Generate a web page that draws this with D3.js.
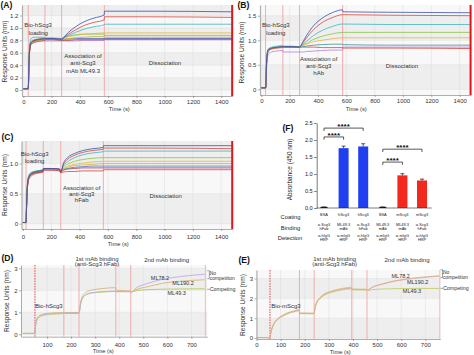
<!DOCTYPE html>
<html>
<head>
<meta charset="utf-8">
<script src="https://cdn.jsdelivr.net/npm/d3@7/dist/d3.min.js"></script>
<style>
html,body{margin:0;padding:0;background:#fff;}
svg{display:block;}
</style>
</head>
<body>
<svg id="chart" width="474" height="355"></svg>
<script>
// ================= DATA =================
// Panel A (anti-Scg3 mAb ML49.3)
const timeA = [0,34,36,39,43,48,56,75,110,152,154,210,270,290,320,370,430,500,572,574,900,1477];
const aBlue   = [0.02,0.02,0.06,0.36,0.60,0.72,0.77,0.80,0.82,0.83,0.83,0.83,0.82, 0.86,0.93,1.02,1.10,1.16,1.21, 1.27,1.27,1.26];
const aRed    = [0.02,0.02,0.05,0.34,0.58,0.71,0.76,0.79,0.81,0.82,0.82,0.82,0.81, 0.85,0.90,0.97,1.04,1.09,1.13, 1.18,1.18,1.17];
const aTeal   = [0.02,0.02,0.07,0.42,0.66,0.78,0.83,0.85,0.85,0.85,0.84,0.84,0.83, 0.85,0.88,0.93,0.98,1.02,1.05, 1.06,1.06,1.06];
const aYellow = [0.02,0.02,0.05,0.35,0.60,0.72,0.77,0.80,0.82,0.83,0.83,0.83,0.82, 0.84,0.86,0.88,0.90,0.91,0.92, 0.92,0.92,0.92];
const aGreen  = [0.02,0.02,0.06,0.38,0.62,0.74,0.79,0.81,0.82,0.83,0.83,0.83,0.82, 0.85,0.87,0.89,0.90,0.90,0.90, 0.88,0.88,0.88];
const aOlive  = [0.02,0.02,0.05,0.33,0.58,0.70,0.75,0.78,0.80,0.81,0.82,0.82,0.81, 0.82,0.83,0.84,0.85,0.86,0.86, 0.85,0.85,0.85];
const aIndigo = [0.02,0.02,0.05,0.34,0.59,0.71,0.76,0.79,0.81,0.82,0.82,0.82,0.81, 0.82,0.82,0.83,0.83,0.83,0.83, 0.83,0.83,0.83];
const aDarkRed= [0.02,0.02,0.05,0.32,0.56,0.69,0.74,0.77,0.79,0.80,0.81,0.81,0.80, 0.80,0.80,0.81,0.81,0.81,0.81, 0.82,0.82,0.82];
const aPurple = [0.02,0.02,0.05,0.30,0.55,0.68,0.73,0.76,0.78,0.79,0.79,0.79,0.79, 0.79,0.79,0.79,0.80,0.80,0.80, 0.81,0.81,0.81];

// Panel B (anti-Scg3 hAb)
const timeB = [0,30,32,35,39,44,52,72,110,151,153,210,269,290,320,370,430,500,573,575,900,1477];
const bBlue   = [0.03,0.03,0.07,0.40,0.65,0.77,0.82,0.84,0.86,0.87,0.87,0.87,0.86, 0.95,1.10,1.30,1.45,1.56,1.62, 1.58,1.57,1.56];
const bRed    = [0.03,0.03,0.06,0.38,0.62,0.75,0.80,0.83,0.85,0.86,0.86,0.86,0.86, 0.93,1.05,1.22,1.36,1.46,1.52, 1.52,1.51,1.50];
const bTeal   = [0.03,0.03,0.07,0.42,0.66,0.78,0.83,0.86,0.88,0.89,0.88,0.88,0.87, 0.91,0.98,1.10,1.20,1.28,1.33, 1.33,1.32,1.32];
const bGreen  = [0.03,0.03,0.06,0.39,0.63,0.76,0.81,0.84,0.86,0.87,0.87,0.87,0.86, 0.90,0.94,1.02,1.08,1.13,1.16, 1.16,1.16,1.16];
const bYellow = [0.03,0.03,0.06,0.37,0.61,0.74,0.79,0.83,0.85,0.86,0.86,0.86,0.86, 0.89,0.92,0.97,1.00,1.03,1.05, 1.05,1.05,1.05];
const bIndigo = [0.03,0.03,0.06,0.37,0.61,0.74,0.79,0.83,0.85,0.86,0.86,0.86,0.86, 0.87,0.88,0.90,0.91,0.92,0.92, 0.91,0.90,0.90];
const bDarkRed= [0.03,0.03,0.06,0.36,0.60,0.73,0.78,0.82,0.84,0.85,0.86,0.86,0.86, 0.86,0.86,0.86,0.85,0.85,0.85, 0.84,0.84,0.83];
const bPurple = [0.03,0.03,0.05,0.30,0.52,0.66,0.72,0.76,0.78,0.79,0.76,0.76,0.76, 0.76,0.77,0.78,0.79,0.80,0.80, 0.86,0.86,0.86];

// Panel C (anti-Scg3 hFab)
const timeC = [0,21,23,26,30,36,44,62,100,143,145,200,258,267,285,315,365,425,495,567,569,900,1478];
const cBlue   = [0.02,0.02,0.06,0.32,0.56,0.72,0.79,0.84,0.87,0.89,0.92,0.92,0.91,0.86, 1.00,1.10,1.17,1.22,1.25,1.27, 1.30,1.30,1.30];
const cRed    = [0.02,0.02,0.06,0.31,0.55,0.71,0.78,0.83,0.86,0.88,0.92,0.92,0.91,0.86, 0.98,1.07,1.14,1.19,1.22,1.24, 1.26,1.26,1.25];
const cTeal   = [0.02,0.02,0.07,0.35,0.60,0.75,0.82,0.86,0.88,0.90,0.92,0.92,0.91,0.87, 0.96,1.03,1.10,1.15,1.18,1.20, 1.21,1.21,1.21];
const cGreen  = [0.02,0.02,0.06,0.34,0.58,0.74,0.81,0.85,0.88,0.90,0.92,0.92,0.91,0.87, 0.94,0.99,1.04,1.07,1.09,1.10, 1.10,1.10,1.10];
const cYellow = [0.02,0.02,0.06,0.33,0.57,0.73,0.80,0.85,0.87,0.89,0.92,0.92,0.91,0.87, 0.92,0.96,0.99,1.01,1.03,1.04, 1.04,1.04,1.04];
const cOlive  = [0.02,0.02,0.06,0.32,0.56,0.72,0.79,0.84,0.87,0.89,0.91,0.91,0.90,0.87, 0.91,0.94,0.97,0.98,0.99,1.00, 1.00,1.00,1.00];
const cIndigo = [0.02,0.02,0.05,0.31,0.55,0.71,0.78,0.83,0.86,0.88,0.91,0.91,0.90,0.87, 0.90,0.92,0.94,0.95,0.96,0.96, 0.96,0.96,0.96];
const cDarkRed= [0.02,0.02,0.05,0.30,0.54,0.70,0.77,0.82,0.85,0.87,0.90,0.90,0.89,0.86, 0.89,0.91,0.92,0.93,0.93,0.93, 0.93,0.93,0.93];
const cRedLow = [0.02,0.02,0.05,0.28,0.52,0.68,0.75,0.80,0.84,0.86,0.89,0.89,0.88,0.85, 0.86,0.87,0.87,0.88,0.88,0.88, 0.90,0.90,0.90];

// Panel D (hScg3 epitope binning)
const timeD = [0,48,50,53,58,65,80,110,168,172,231,234,238,246,260,290,330,384,388,446,450,470,520,580,650,755];
const dML782  = [0.04,0.04,0.10,0.45,0.66,0.78,0.87,0.93,0.96,0.96, 0.96,0.98,1.30,1.62,1.80,1.90,1.94,1.96, 1.94,1.94, 1.92,2.10,2.32,2.50,2.62,2.73];
const dML1902 = [0.04,0.04,0.10,0.48,0.70,0.82,0.91,0.96,0.99,0.99, 0.99,1.00,1.35,1.70,1.90,2.02,2.08,2.12, 2.00,1.97, 1.93,2.03,2.17,2.32,2.41,2.48];
const dML493  = [0.04,0.04,0.10,0.42,0.63,0.75,0.85,0.91,0.94,0.95, 0.95,0.97,1.28,1.60,1.78,1.88,1.92,1.95, 1.94,1.94, 1.92,1.98,2.03,2.05,2.06,2.07];

// Panel E (mScg3 epitope binning)
const timeE = [0,54,56,60,66,75,90,110,135,160,177,179,237,239,243,250,262,280,310,350,393,397,456,460,480,520,580,650,758];
const eML782  = [0.02,0.02,0.05,0.30,0.55,0.78,0.98,1.14,1.28,1.36,1.41, 1.25,1.24, 1.26,1.55,1.80,2.00,2.18,2.33,2.45,2.52, 2.45,2.44, 2.42,2.56,2.72,2.90,3.02,3.14];
const eML1902 = [0.02,0.02,0.05,0.32,0.58,0.80,1.00,1.16,1.30,1.38,1.43, 1.26,1.25, 1.27,1.57,1.83,2.03,2.22,2.37,2.49,2.56, 2.47,2.46, 2.43,2.56,2.71,2.88,3.00,3.11];
const eML493  = [0.02,0.02,0.05,0.28,0.52,0.75,0.95,1.11,1.25,1.33,1.38, 1.23,1.22, 1.24,1.52,1.77,1.97,2.15,2.30,2.42,2.48, 2.43,2.42, 2.40,2.44,2.47,2.49,2.50,2.50];

// Panel F (ELISA)
const fCoating    = ['BSA','hScg3','hScg3','BSA','mScg3','mScg3'];
const fBinding1   = ['α-Scg3','ML49.3','α-Scg3','ML49.3','ML49.3','α-Scg3'];
const fBinding2   = ['hFab','mAb','hFab','mAb','mAb','hFab'];
const fDetection1 = ['α-hIgG','α-mIgG','α-hIgG','α-mIgG','α-mIgG','α-hIgG'];
const fDetection2 = ['HRP','HRP','HRP','HRP','HRP','HRP'];
const fValues     = [0.02,1.76,1.81,0.02,0.96,0.81];
const fErrors     = [0.01,0.06,0.08,0.01,0.05,0.04];
const fBrackets   = [[0,1,2.09],[0,2,2.35],[3,4,1.35],[3,5,1.73]];
const fYTicks     = [0,0.5,1,1.5,2,2.5];

// tick labels
const ticksTime1480 = [0,200,400,600,800,1000,1200,1400];
const ticksTimeD = [100,200,300,400,500,600,700];
const ticksTimeE = [0,100,200,300,400,500,600,700];

// ================= DRAWING =================
const FONT = '"Liberation Sans", Arial, Helvetica, sans-serif';
const svg = d3.select('#chart').attr('font-family', FONT);
const COL = {blue:'#3552b5', red:'#d8453b', teal:'#3db6c4', green:'#88c443', yellow:'#e8b43c',
             olive:'#b9b23c', indigo:'#5c66bb', darkred:'#a9394a', purple:'#b181d8'};

function txt(g, x, y, s, size, anchor, opts) {
  const t = g.append('text').attr('x', x).attr('y', y).text(s)
    .attr('font-size', size).attr('text-anchor', anchor || 'start').attr('fill', (opts && opts.fill) || '#333');
  if (opts && opts.bold) t.attr('font-weight', 'bold');
  return t;
}

let clipN = 0;
function kinetic(p) {
  const g = svg.append('g');
  const x = d3.scaleLinear().domain(p.xd).range([p.left, p.right]);
  const y = d3.scaleLinear().domain(p.yd).range([p.bottom, p.top]);
  const cid = 'clip' + (clipN++);
  svg.append('clipPath').attr('id', cid).append('rect')
    .attr('x', p.left).attr('y', p.top).attr('width', p.right - p.left).attr('height', p.bottom - p.top);
  // background bands
  const edges = [p.yd[0], ...p.yticks, p.yd[1]];
  for (let i = 0; i < edges.length - 1; i++) {
    g.append('rect').attr('x', p.left).attr('width', p.right - p.left)
      .attr('y', y(edges[i + 1])).attr('height', y(edges[i]) - y(edges[i + 1]))
      .attr('fill', i % 2 ? '#eeeeee' : '#f8f8f8');
  }
  // grid
  g.append('g').selectAll('line').data(p.xticks).join('line')
    .attr('x1', d => x(d)).attr('x2', d => x(d)).attr('y1', p.top).attr('y2', p.bottom)
    .attr('stroke', '#dcdcdc').attr('stroke-width', 0.5);
  g.append('g').selectAll('line').data(p.yticks).join('line')
    .attr('y1', d => y(d)).attr('y2', d => y(d)).attr('x1', p.left).attr('x2', p.right)
    .attr('stroke', '#dcdcdc').attr('stroke-width', 0.5);
  // step lines
  g.append('g').selectAll('line').data(p.events).join('line')
    .attr('x1', d => x(d)).attr('x2', d => x(d)).attr('y1', p.top).attr('y2', p.bottom)
    .attr('stroke', '#f09a9a').attr('stroke-width', 0.8);
  if (p.dashed != null) {
    g.append('line').attr('x1', x(p.dashed)).attr('x2', x(p.dashed)).attr('y1', p.top).attr('y2', p.bottom)
      .attr('stroke', '#e2383a').attr('stroke-width', 0.9).attr('stroke-dasharray', '1.6,1');
  }
  // curves
  const line = d3.line().x(d => x(d[0])).y(d => y(d[1])).curve(d3.curveMonotoneX);
  g.append('g').attr('clip-path', `url(#${cid})`).selectAll('path').data(p.series).join('path')
    .attr('d', s => line(s.t.map((t, i) => [t, s.v[i]])))
    .attr('fill', 'none').attr('stroke', s => s.color).attr('stroke-width', p.lw || 0.8);
  // end line
  g.append('line').attr('x1', x(p.endT)).attr('x2', x(p.endT)).attr('y1', p.top).attr('y2', p.bottom)
    .attr('stroke', p.endThick ? '#e3131b' : '#f3a9a9').attr('stroke-width', p.endThick ? 2 : 0.8);
  // axes
  const ax = g.append('g').attr('transform', `translate(0,${p.bottom})`)
    .call(d3.axisBottom(x).tickValues(p.xticks).tickSize(2).tickSizeOuter(0).tickPadding(p.xpad).tickFormat(d3.format('d')));
  const ay = g.append('g').attr('transform', `translate(${p.left},0)`)
    .call(d3.axisLeft(y).tickValues(p.yticks).tickSize(2).tickSizeOuter(0).tickPadding(1.5).tickFormat(p.yfmt));
  [ax, ay].forEach(a => {
    a.attr('font-family', FONT);
    a.selectAll('text').attr('font-size', 6).attr('fill', '#333');
    a.selectAll('line,path').attr('stroke', '#777').attr('stroke-width', 0.6);
  });
  // titles
  g.append('text').attr('transform', `translate(${p.ytx},${p.yty}) rotate(-90)`)
    .attr('text-anchor', 'middle').attr('font-size', 6.6).attr('fill', '#333').text('Response Units (nm)');
  txt(g, p.ttx, p.tty, 'Time (s)', 5.8, 'middle');
  return {g, x, y};
}

const fmt1 = d => d === 0 ? '0' : d3.format('.1f')(d);
const fmt0 = d3.format('d');
const S = (t, v, c) => ({t, v, color: c});

// ---- Panel A ----
const A = kinetic({
  left: 21.9, right: 232.6, top: 5, bottom: 96, xd: [-10, 1480], yd: [-0.097, 1.37],
  xticks: ticksTime1480, yticks: [0, 0.2, 0.4, 0.6, 0.8, 1.0, 1.2], yfmt: fmt1, xpad: 1.5,
  events: [35, 153, 271, 573], endT: 1477, endThick: true,
  ytx: 6.5, yty: 51.5, ttx: 119.3, tty: 110.5,
  series: [S(timeA, aPurple, COL.purple), S(timeA, aDarkRed, COL.darkred), S(timeA, aIndigo, COL.indigo),
           S(timeA, aOlive, COL.olive), S(timeA, aGreen, COL.green), S(timeA, aYellow, COL.yellow),
           S(timeA, aTeal, COL.teal), S(timeA, aRed, COL.red), S(timeA, aBlue, COL.blue)]
});
txt(A.g, 38, 27, 'Bio-hScg3', 6, 'middle');
txt(A.g, 38.3, 35, 'loading', 6, 'middle');
txt(A.g, 83, 57.5, 'Association of', 6, 'middle');
txt(A.g, 83, 65, 'anti-Scg3', 6, 'middle');
txt(A.g, 83, 72.5, 'mAb ML49.3', 6, 'middle');
txt(A.g, 165, 65, 'Dissociation', 6, 'middle');

// ---- Panel B ----
const B = kinetic({
  left: 259.9, right: 471, top: 5, bottom: 95, xd: [-10, 1480], yd: [-0.116, 1.718],
  xticks: ticksTime1480, yticks: [0, 0.5, 1.0, 1.5], yfmt: fmt1, xpad: 1.5,
  events: [30, 152, 270, 574], endT: 1477, endThick: true,
  ytx: 243.5, yty: 52.5, ttx: 356.3, tty: 111,
  series: [S(timeB, bPurple, COL.purple), S(timeB, bDarkRed, COL.red), S(timeB, bIndigo, '#3a8f9a'),
           S(timeB, bYellow, COL.yellow), S(timeB, bGreen, COL.green),
           S(timeB, bTeal, COL.teal), S(timeB, bRed, COL.red), S(timeB, bBlue, COL.blue)]
});
txt(B.g, 275.8, 27, 'Bio-hScg3', 6, 'middle');
txt(B.g, 275.8, 35.3, 'loading', 6, 'middle');
txt(B.g, 318.7, 61.3, 'Association of', 6, 'middle');
txt(B.g, 318.7, 68, 'anti-Scg3', 6, 'middle');
txt(B.g, 318.7, 74.7, 'hAb', 6, 'middle');
txt(B.g, 402, 68, 'Dissociation', 6, 'middle');

// ---- Panel C ----
const C = kinetic({
  left: 21.5, right: 232.5, top: 141, bottom: 229, xd: [-10, 1480], yd: [-0.088, 1.378],
  xticks: ticksTime1480, yticks: [0, 0.5, 1.0], yfmt: fmt1, xpad: 4,
  events: [22, 144, 267, 568], endT: 1478, endThick: true,
  ytx: 6.5, yty: 185, ttx: 118.3, tty: 245.5,
  series: [S(timeC, cRedLow, COL.red), S(timeC, cDarkRed, COL.darkred), S(timeC, cIndigo, COL.indigo),
           S(timeC, cOlive, COL.olive), S(timeC, cYellow, COL.yellow), S(timeC, cGreen, COL.green),
           S(timeC, cTeal, COL.teal), S(timeC, cRed, COL.red), S(timeC, cBlue, COL.blue)]
});
txt(C.g, 34.7, 156.3, 'Bio-hScg3', 6, 'middle');
txt(C.g, 34.7, 162.5, 'loading', 6, 'middle');
txt(C.g, 81.7, 190, 'Association of', 6, 'middle');
txt(C.g, 81.7, 195.9, 'anti-Scg3', 6, 'middle');
txt(C.g, 81.7, 201.6, 'hFab', 6, 'middle');
txt(C.g, 165.7, 197.5, 'Dissociation', 6, 'middle');

// ---- Panel D ----
const D = kinetic({
  left: 21, right: 207.3, top: 265, bottom: 336.7, xd: [-8, 766], yd: [-0.109, 3.15],
  xticks: ticksTimeD, yticks: [0, 1, 2, 3], yfmt: fmt0, xpad: 4,
  events: [170, 233, 386, 448], dashed: 50, endT: 758, endThick: false,
  ytx: 9, yty: 301, ttx: 103.3, tty: 353, lw: 0.9,
  series: [S(timeD, dML493, '#b5c85a'), S(timeD, dML1902, '#d9b47c'), S(timeD, dML782, '#b8aee4')]
});
txt(D.g, 97, 261, '1st mAb binding', 6, 'middle');
txt(D.g, 97, 266.2, '(anti-Scg3 hFab)', 6, 'middle');
txt(D.g, 166.7, 261.5, '2nd mAb binding', 6, 'middle');
txt(D.g, 35, 307.8, 'Bio-hScg3', 6, 'start');
txt(D.g, 160, 279.6, 'ML78.2', 5.5, 'middle');
txt(D.g, 183, 284.6, 'ML190.2', 5.5, 'middle');
txt(D.g, 176.7, 294.6, 'ML49.3', 5.5, 'middle');

// ---- Panel E ----
const E = kinetic({
  left: 256.5, right: 440.3, top: 270, bottom: 339, xd: [0, 762], yd: [-0.05, 3.43],
  xticks: ticksTimeE, yticks: [0, 1, 2, 3], yfmt: fmt0, xpad: 2,
  events: [178, 239, 395, 458], dashed: 56, endT: 760, endThick: false,
  ytx: 244.5, yty: 305, ttx: 340.3, tty: 353.5, lw: 0.9,
  series: [S(timeE, eML493, '#c4cc6a'), S(timeE, eML1902, '#e0bf88'), S(timeE, eML782, '#d9a9a0')]
});
txt(E.g, 334.7, 261, '1st mAb binding', 6, 'middle');
txt(E.g, 334.7, 266.2, '(anti-Scg3 hFab)', 6, 'middle');
txt(E.g, 407, 261.5, '2nd mAb binding', 6, 'middle');
txt(E.g, 271.3, 307.8, 'Bio-mScg3', 6, 'start');
txt(E.g, 400.7, 278, 'ML78.2', 5.5, 'middle');
txt(E.g, 417.7, 283.5, 'ML190.2', 5.5, 'middle');
txt(E.g, 412, 293, 'ML49.3', 5.5, 'middle');

// competition annotations
function compLabels(g, x0, yNo, yComp) {
  g.append('path').attr('d', `M${x0},${yNo - 3.6}H${x0 + 2}V${yNo + 4.4}H${x0}M${x0 + 2},${yNo + 0.4}H${x0 + 3.5}`)
    .attr('fill', 'none').attr('stroke', '#444').attr('stroke-width', 0.5);
  txt(g, x0 + 2.5, yNo + 0.2, 'No', 4.9, 'start');
  txt(g, x0 + 2.5, yNo + 5.9, 'competition', 4.9, 'start');
  g.append('line').attr('x1', x0).attr('x2', x0 + 2.5).attr('y1', yComp).attr('y2', yComp)
    .attr('stroke', '#444').attr('stroke-width', 0.5);
  txt(g, x0 + 2.5, yComp + 2, 'Competing', 5.3, 'start');
}
compLabels(D.g, 207.3, 274.3, 289.3);
compLabels(E.g, 440.5, 273.3, 288.3);

// ---- Panel F ----
const F = svg.append('g');
const fx = d3.scalePoint().domain(d3.range(fValues.length)).range([324, 422]);
const fy = d3.scaleLinear().domain([0, 2.5]).range([208, 123]);
const fColors = ['#111', '#1f3ff0', '#1f3ff0', '#111', '#f2291d', '#f2291d'];
F.selectAll('rect.bar').data(fValues).join('rect').attr('class', 'bar')
  .attr('x', (d, i) => fx(i) - (fValues[i] < 0.1 ? 3.5 : 5)).attr('width', (d, i) => fValues[i] < 0.1 ? 7 : 10)
  .attr('y', d => fy(d) - (d < 0.1 ? 0.5 : 0)).attr('height', d => fy(0) - fy(d) + (d < 0.1 ? 0.5 : 0))
  .attr('fill', (d, i) => fColors[i]);
F.selectAll('path.err').data(fValues).join('path').attr('class', 'err')
  .attr('d', (d, i) => `M${fx(i)},${fy(d)}V${fy(d + fErrors[i])}M${fx(i) - 2},${fy(d + fErrors[i])}H${fx(i) + 2}`)
  .attr('stroke', '#111').attr('stroke-width', 0.7).attr('fill', 'none');
const fay = F.append('g').attr('transform', 'translate(316.7,0)')
  .call(d3.axisLeft(fy).tickValues(fYTicks).tickSize(2.5).tickSizeOuter(0).tickPadding(1.5).tickFormat(d3.format('.1f')));
fay.attr('font-family', FONT);
fay.selectAll('text').attr('font-size', 5.6).attr('fill', '#222');
fay.selectAll('line,path').attr('stroke', '#222').attr('stroke-width', 0.6);
F.append('line').attr('x1', 316.7).attr('x2', 431.7).attr('y1', fy(0)).attr('y2', fy(0))
  .attr('stroke', '#222').attr('stroke-width', 0.6);
F.append('text').attr('transform', 'translate(291.5,169.5) rotate(-90)')
  .attr('text-anchor', 'middle').attr('font-size', 6.4).attr('fill', '#222').text('Absorbance (450 nm)');
// significance brackets
fBrackets.forEach(([a, b, lv]) => {
  const yy = fy(lv);
  F.append('path').attr('d', `M${fx(a)},${yy + 2.8}V${yy}H${fx(b)}V${yy + 2.8}`)
    .attr('fill', 'none').attr('stroke', '#111').attr('stroke-width', 0.7);
  F.append('text').attr('x', (fx(a) + fx(b)) / 2).attr('y', yy + 1.2).attr('text-anchor', 'middle')
    .attr('font-size', 8).attr('font-weight', 'bold').attr('fill', '#111').text('****');
});
// category rows
txt(F, 290.5, 218.5, 'Coating', 5.8, 'middle', {fill: '#222'});
txt(F, 290.5, 229.7, 'Binding', 5.8, 'middle', {fill: '#222'});
txt(F, 290, 240.3, 'Detection', 5.8, 'middle', {fill: '#222'});
const rows = [[fCoating, 216.4], [fBinding1, 226.4], [fBinding2, 230.1], [fDetection1, 236.9], [fDetection2, 240.6]];
rows.forEach(([arr, yy]) => {
  F.append('g').selectAll('text').data(arr).join('text')
    .attr('x', (d, i) => fx(i)).attr('y', yy).attr('text-anchor', 'middle')
    .attr('font-size', 3.9).attr('fill', '#222').text(d => d);
});

// panel letters
[['(A)', 0.5, 7.5], ['(B)', 237.5, 7.5], ['(C)', 1.5, 140.2], ['(D)', 1.5, 260.8], ['(E)', 238.5, 262.8], ['(F)', 282.5, 131]]
  .forEach(([s, x, y]) => txt(svg, x, y, s, 8.6, 'start', {bold: true, fill: '#111'}));
</script>
</body>
</html>
